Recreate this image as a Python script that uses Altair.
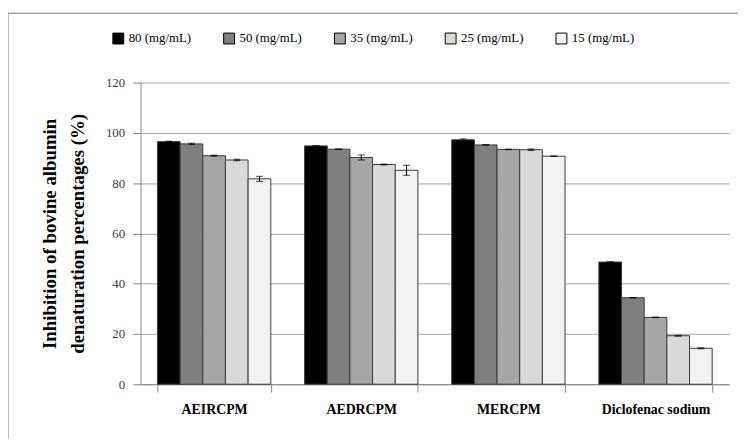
import altair as alt
import pandas as pd

groups = ["AEIRCPM", "AEDRCPM", "MERCPM", "Diclofenac sodium"]
doses = ["80 (mg/mL)", "50 (mg/mL)", "35 (mg/mL)", "25 (mg/mL)", "15 (mg/mL)"]
values = {
    "AEIRCPM": [96.5, 95.6, 90.9, 89.2, 81.7],
    "AEDRCPM": [94.8, 93.5, 90.2, 87.4, 85.1],
    "MERCPM": [97.2, 95.2, 93.4, 93.3, 90.7],
    "Diclofenac sodium": [48.6, 34.4, 26.6, 19.3, 14.3],
}
errors = {
    "AEIRCPM": [0.2, 0.3, 0.2, 0.3, 1.0],
    "AEDRCPM": [0.1, 0.1, 1.0, 0.2, 2.0],
    "MERCPM": [0.4, 0.1, 0.1, 0.3, 0.1],
    "Diclofenac sodium": [0.1, 0.1, 0.1, 0.2, 0.2],
}
colors = ["#000000", "#7f7f7f", "#a6a6a6", "#d9d9d9", "#f2f2f2"]

rows = []
for g in groups:
    for d, v, e in zip(doses, values[g], errors[g]):
        rows.append({"group": g, "dose": d, "value": v, "lo": v - e, "hi": v + e})
df = pd.DataFrame(rows)

FONT = "Liberation Serif"

x = alt.X("group:N", sort=groups, title=None,
          scale=alt.Scale(paddingInner=0.23, paddingOuter=0.115),
          axis=alt.Axis(labelAngle=0, labelFont=FONT, labelFontSize=14, labelFontWeight="bold",
                        labelColor="#000000", labelPadding=11, tickBand="extent", tickSize=8,
                        tickColor="#868686", domainColor="#868686", grid=False))
xoff = alt.XOffset("dose:N", sort=doses, scale=alt.Scale(paddingInner=0, paddingOuter=0))

bars = alt.Chart(df).mark_bar(stroke="#3a3a3a", strokeWidth=1).encode(
    x=x,
    xOffset=xoff,
    y=alt.Y("value:Q", scale=alt.Scale(domain=[0, 120]),
            title=["Inhibition of bovine albumin", "denaturation percentages (%)"],
            axis=alt.Axis(values=[0, 20, 40, 60, 80, 100, 120], labelFont=FONT, labelFontSize=13,
                          labelColor="#404040", labelPadding=8, tickSize=8, tickColor="#868686",
                          domainColor="#868686", gridColor="#a6a6a6", titleFont=FONT,
                          titleFontSize=19, titleFontWeight="bold", titleColor="#000000",
                          titlePadding=18, titleLineHeight=28)),
    color=alt.Color("dose:N", sort=doses, scale=alt.Scale(domain=doses, range=colors),
                    legend=alt.Legend(title=None, orient="none", direction="horizontal",
                                      legendX=-29, legendY=-51, symbolType="square", symbolSize=121,
                                      symbolStrokeColor="#000000", symbolStrokeWidth=1,
                                      labelFont=FONT, labelFontSize=13, labelColor="#000000",
                                      columnPadding=30, labelOffset=4, symbolOpacity=1)),
)

err = alt.Chart(df).mark_rule(color="#000000", strokeWidth=1).encode(
    x=alt.X("group:N", sort=groups), xOffset=xoff, y="lo:Q", y2="hi:Q")
cap_hi = alt.Chart(df).mark_tick(color="#000000", thickness=1, size=7).encode(
    x=alt.X("group:N", sort=groups), xOffset=xoff, y="hi:Q")
cap_lo = alt.Chart(df).mark_tick(color="#000000", thickness=1, size=7).encode(
    x=alt.X("group:N", sort=groups), xOffset=xoff, y="lo:Q")

border = alt.Chart(pd.DataFrame({"a": [0]})).mark_rect(fill=None, stroke="#a6a6a6", strokeWidth=1.5).encode(
    x=alt.value(-134), x2=alt.value(640), y=alt.value(-70), y2=alt.value(400))

chart = alt.layer(border, bars, err, cap_hi, cap_lo).properties(
    width=595, height=305,
    autosize=alt.AutoSizeParams(type="none"),
    padding={"left": 134, "top": 73, "right": 9, "bottom": 53},
).configure(font=FONT).configure_view(stroke=None).configure_axisY(domain=True)

chart.save("out.html", embed_options={"renderer": "svg", "actions": False})
